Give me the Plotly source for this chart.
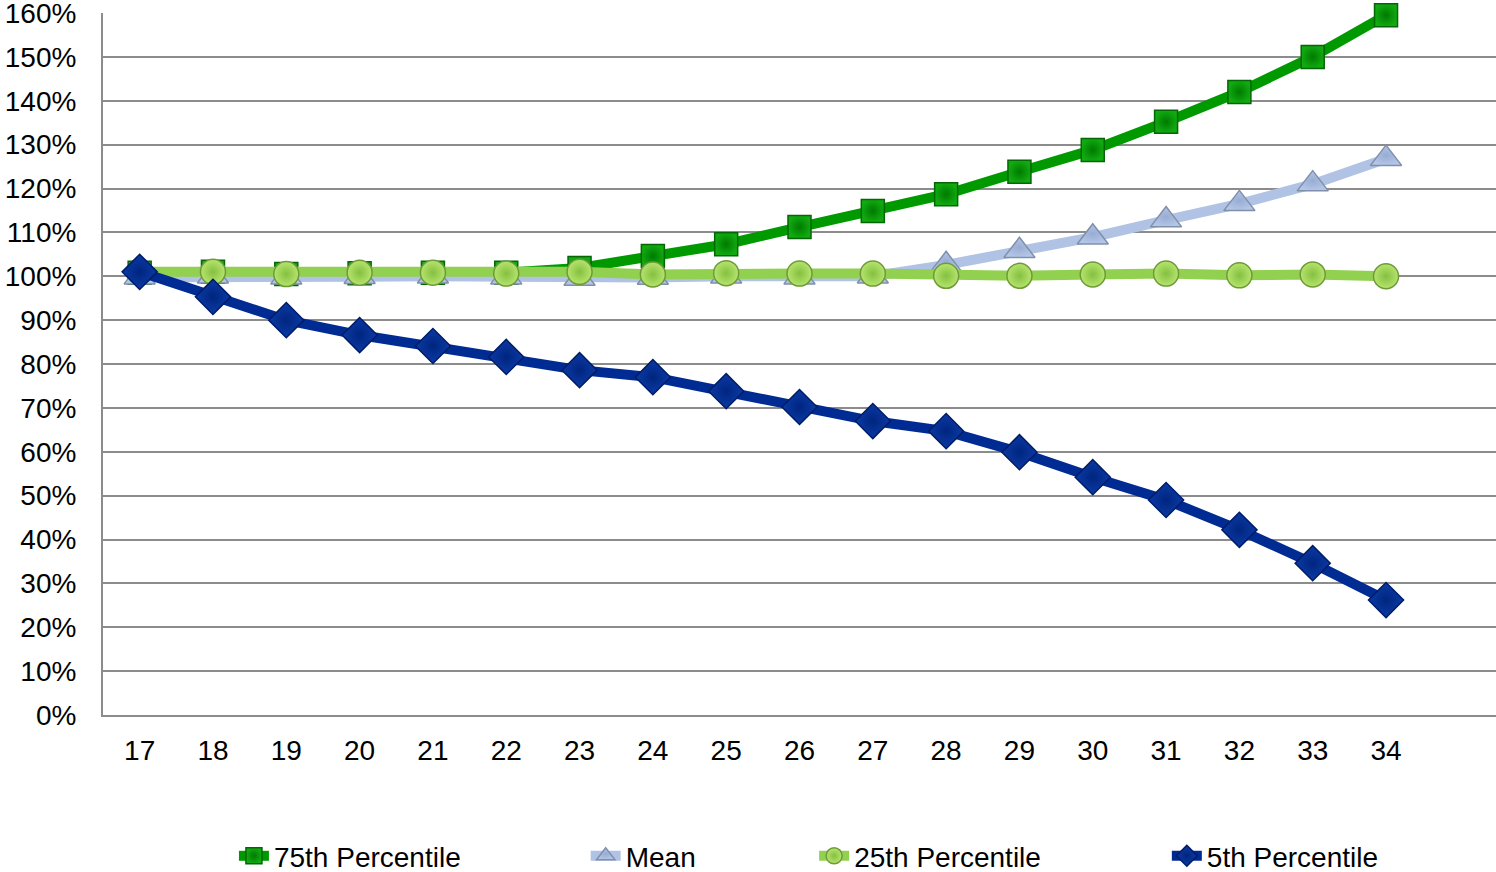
import plotly.graph_objects as go

ages = [17, 18, 19, 20, 21, 22, 23, 24, 25, 26, 27, 28, 29, 30, 31, 32, 33, 34]
p75 = [100.8, 101.0, 100.5, 100.7, 100.8, 100.8, 101.9, 104.6, 107.3, 111.2, 114.9, 118.7, 123.8, 128.8, 135.2, 142.0, 150.0, 159.5]
mean = [99.8, 100.0, 99.8, 99.9, 100.0, 99.8, 99.5, 99.7, 100.0, 99.8, 100.0, 102.6, 105.8, 108.9, 112.8, 116.5, 121.0, 126.8]
p25 = [101.0, 101.0, 100.5, 100.8, 100.8, 100.6, 101.0, 100.4, 100.7, 100.6, 100.6, 100.1, 100.1, 100.4, 100.6, 100.2, 100.4, 100.0]
p5 = [101.0, 95.3, 90.0, 86.6, 84.1, 81.6, 78.6, 77.0, 73.8, 70.2, 67.0, 64.7, 59.9, 54.2, 49.0, 42.2, 34.6, 26.2]

names = ["75th Percentile", "Mean", "25th Percentile", "5th Percentile"]
y_ticks = list(range(0, 161, 10))
y_labels = [f"{v}%" for v in y_ticks]

FONT = "Liberation Sans, Arial, sans-serif"
FS = 28

fig = go.Figure()

styles = [
    dict(data=p75, line="#009900", mk="#11aa11", mkline="#056605", sym="square", size=23, grad="#007a00", legend="legend"),
    dict(data=mean, line="#b0c3e5", mk="#b4c6e8", mkline="#8090aa", sym="triangle-up", size=27, grad="#98acd2", legend="legend2"),
    dict(data=p25, line="#92d050", mk="#b6e46e", mkline="#6f9a3a", sym="circle", size=25, grad="#84c040", legend="legend3"),
    dict(data=p5, line="#002b93", mk="#0b3aa6", mkline="#001c66", sym="diamond", size=27, grad="#00257e", legend="legend4"),
]

for name, s in zip(names, styles):
    fig.add_trace(go.Scatter(
        x=ages, y=s["data"], name=name, mode="lines+markers",
        line=dict(color=s["line"], width=10),
        marker=dict(symbol=s["sym"], size=s["size"], color=s["mk"],
                    line=dict(color=s["mkline"], width=1.5),
                    gradient=dict(type="radial", color=s["grad"])),
        legend=s["legend"], cliponaxis=False,
    ))

leg_common = dict(orientation="h", yanchor="middle", y=-0.201, xanchor="left",
                  font=dict(family=FONT, size=FS, color="#000000"),
                  bgcolor="rgba(0,0,0,0)", itemwidth=30)

fig.update_layout(
    width=1496, height=872,
    margin=dict(l=103, r=0, t=13, b=157, autoexpand=False),
    paper_bgcolor="white", plot_bgcolor="white",
    font=dict(family=FONT, size=FS, color="#000000"),
    showlegend=True,
    legend=dict(x=0.0940, **leg_common),
    legend2=dict(x=0.3465, **leg_common),
    legend3=dict(x=0.5105, **leg_common),
    legend4=dict(x=0.7637, **leg_common),
    xaxis=dict(
        range=[16.5, 35.5], tickmode="array", tickvals=ages,
        ticktext=[str(a) for a in ages], showgrid=False, zeroline=False,
        showline=True, linecolor="#8c8c8c", linewidth=2, ticks="",
        ticklabelstandoff=9, tickfont=dict(family=FONT, size=FS),
        automargin=False,
    ),
    yaxis=dict(
        range=[0, 160], tickmode="array", tickvals=y_ticks, ticktext=y_labels,
        showgrid=True, gridcolor="#8c8c8c", gridwidth=2, zeroline=False,
        showline=True, linecolor="#8c8c8c", linewidth=2, ticks="",
        ticklabelstandoff=19, tickfont=dict(family=FONT, size=FS),
        automargin=False, ticklabeloverflow="allow",
    ),
)

fig.write_html("out.html", config={"displayModeBar": False},
               post_script="document.body.style.margin='0';")
